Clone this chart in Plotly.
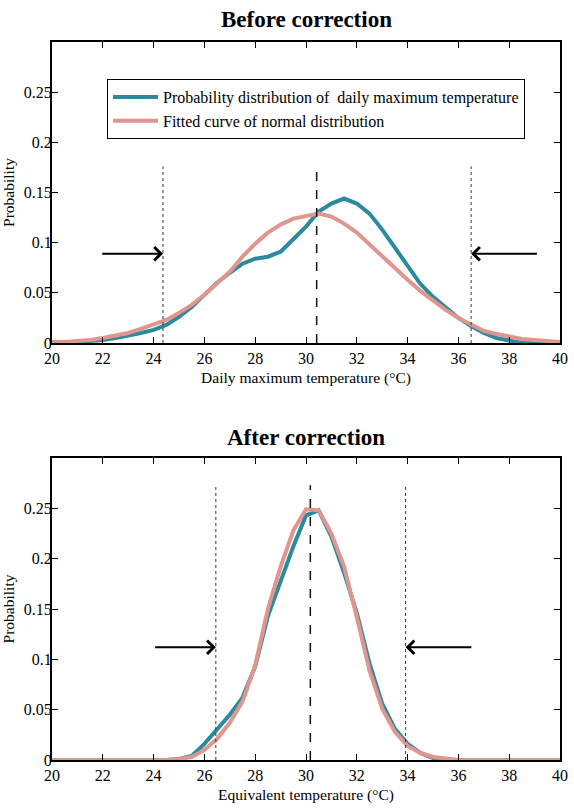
import plotly.graph_objects as go
from plotly.subplots import make_subplots

# ---------------- data ----------------
temp_grid = [20 + 0.5 * i for i in range(41)]

before_empirical = [0.000, 0.000, 0.001, 0.002, 0.003, 0.005, 0.007, 0.010, 0.013, 0.018,
                    0.026, 0.036, 0.048, 0.060, 0.070, 0.079, 0.084, 0.086, 0.091, 0.103,
                    0.116, 0.131, 0.139, 0.144, 0.139, 0.129, 0.113, 0.095, 0.077, 0.059,
                    0.046, 0.035, 0.025, 0.017, 0.010, 0.005, 0.002, 0.000, 0.000, 0.000, 0.000]
before_fitted = [0.001, 0.001, 0.002, 0.003, 0.005, 0.007, 0.010, 0.014, 0.018, 0.023,
                 0.030, 0.038, 0.048, 0.059, 0.071, 0.086, 0.099, 0.110, 0.118, 0.124,
                 0.127, 0.129, 0.126, 0.119, 0.110, 0.098, 0.086, 0.075, 0.063, 0.052,
                 0.042, 0.033, 0.025, 0.018, 0.012, 0.009, 0.006, 0.004, 0.003, 0.002, 0.001]

after_empirical = [0, 0, 0, 0, 0, 0, 0, 0, 0, 0,
                   0.001, 0.004, 0.016, 0.031, 0.045, 0.062, 0.093, 0.143, 0.179, 0.212,
                   0.243, 0.248, 0.222, 0.186, 0.146, 0.096, 0.056, 0.031, 0.016, 0.007,
                   0.002, 0, 0, 0, 0, 0, 0, 0, 0, 0, 0]
after_fitted = [0, 0, 0, 0, 0, 0, 0, 0, 0, 0,
                0.001, 0.003, 0.010, 0.021, 0.037, 0.058, 0.094, 0.150, 0.192, 0.228,
                0.249, 0.248, 0.225, 0.192, 0.142, 0.089, 0.051, 0.028, 0.014, 0.007,
                0.003, 0.001, 0, 0, 0, 0, 0, 0, 0, 0, 0]

before_mean = 30.42
before_bounds = [24.37, 36.5]
after_mean = 30.17
after_bounds = [26.45, 33.92]

x_ticks = [20, 22, 24, 26, 28, 30, 32, 34, 36, 38, 40]
y_ticks = [0, 0.05, 0.1, 0.15, 0.2, 0.25]
y_tick_text = ["0", "0.05", "0.1", "0.15", "0.2", "0.25"]

titles = ["Before correction", "After correction"]
x_titles = ["Daily maximum temperature (°C)", "Equivalent temperature (°C)"]
series_names = ["Probability distribution of  daily maximum temperature",
                "Fitted curve of normal distribution"]

# ---------------- style ----------------
BLUE = "#2B8A9D"
PINK = "#E0958F"
FONT = "Liberation Serif"

W, H = 574, 809
ML, MR, MT, MB = 52, 14, 42, 49
ph = H - MT - MB
top_dom = [(760 - 343) / ph, 1.0]
bot_dom = [0.0, (760 - 458) / ph]

fig = make_subplots(rows=2, cols=1)

panels = [
    (1, before_empirical, before_fitted, before_mean, before_bounds, 0.176, 0.089, True),
    (2, after_empirical, after_fitted, after_mean, after_bounds, 0.273, 0.112, False),
]

for row, emp, fit, mean, bounds, vtop, arrow_y, show in panels:
    fig.add_trace(go.Scatter(x=temp_grid, y=emp, mode="lines", name=series_names[0],
                             line=dict(color=BLUE, width=4), showlegend=show),
                  row=row, col=1)
    fig.add_trace(go.Scatter(x=temp_grid, y=fit, mode="lines", name=series_names[1],
                             line=dict(color=PINK, width=4), showlegend=show),
                  row=row, col=1)
    xr = "x" if row == 1 else "x2"
    yr = "y" if row == 1 else "y2"
    for b in bounds:
        fig.add_shape(type="line", x0=b, x1=b, y0=0, y1=vtop, xref=xr, yref=yr,
                      line=dict(color="#333333", width=1, dash="dot"))
    fig.add_shape(type="line", x0=mean, x1=mean, y0=0, y1=vtop, xref=xr, yref=yr,
                  line=dict(color="#111111", width=1.5, dash="dash"))
    # arrows pointing toward the bounds
    fig.add_annotation(x=bounds[0], y=arrow_y, ax=bounds[0] - 2.45, ay=arrow_y,
                       xref=xr, yref=yr, axref=xr, ayref=yr, text="", showarrow=True,
                       arrowhead=4, arrowsize=1.3, arrowwidth=2, arrowcolor="black")
    fig.add_annotation(x=bounds[1], y=arrow_y, ax=bounds[1] + 2.65, ay=arrow_y,
                       xref=xr, yref=yr, axref=xr, ayref=yr, text="", showarrow=True,
                       arrowhead=4, arrowsize=1.3, arrowwidth=2, arrowcolor="black")

axis_common = dict(showline=True, linecolor="black", linewidth=2, mirror="ticks",
                   ticks="inside", ticklen=6, tickwidth=1.3, tickcolor="black",
                   showgrid=False, zeroline=False, automargin=False,
                   tickfont=dict(family=FONT, size=16, color="black"))

for i, dom in [(1, top_dom), (2, bot_dom)]:
    fig.update_xaxes(range=[20, 40], tickvals=x_ticks, **axis_common,
                     title=dict(text=x_titles[i - 1], font=dict(family=FONT, size=15.5, color="black"),
                                standoff=6),
                     row=i, col=1)
    fig.update_yaxes(range=[0, 0.3], tickvals=y_ticks, ticktext=y_tick_text, domain=dom,
                     **axis_common, ticklabelstandoff=-5,
                     title=dict(text="Probability", font=dict(family=FONT, size=15.5, color="black"),
                                standoff=5),
                     row=i, col=1)

fig.update_layout(xaxis=dict(domain=[0, 1]), xaxis2=dict(domain=[0, 1]))

# titles
fig.add_annotation(text="<b>Before correction</b>", x=0.5, y=1.0, xref="paper", yref="paper",
                   xanchor="center", yanchor="bottom", yshift=8, showarrow=False,
                   font=dict(family=FONT, size=23, color="black"))
fig.add_annotation(text="<b>After correction</b>", x=0.5, y=bot_dom[1], xref="paper", yref="paper",
                   xanchor="center", yanchor="bottom", yshift=6, showarrow=False,
                   font=dict(family=FONT, size=23, color="black"))

fig.update_layout(
    width=W, height=H,
    margin=dict(l=ML, r=MR, t=MT, b=MB),
    paper_bgcolor="white", plot_bgcolor="white",
    font=dict(family=FONT, color="black"),
    legend=dict(x=(107 - ML) / (W - ML - MR), y=1 - (79 - MT) / ph,
                xanchor="left", yanchor="top",
                bgcolor="white", bordercolor="black", borderwidth=1,
                font=dict(family=FONT, size=16, color="black"),
                tracegroupgap=0, itemwidth=45),
    showlegend=True,
)

fig.write_html("out.html")
